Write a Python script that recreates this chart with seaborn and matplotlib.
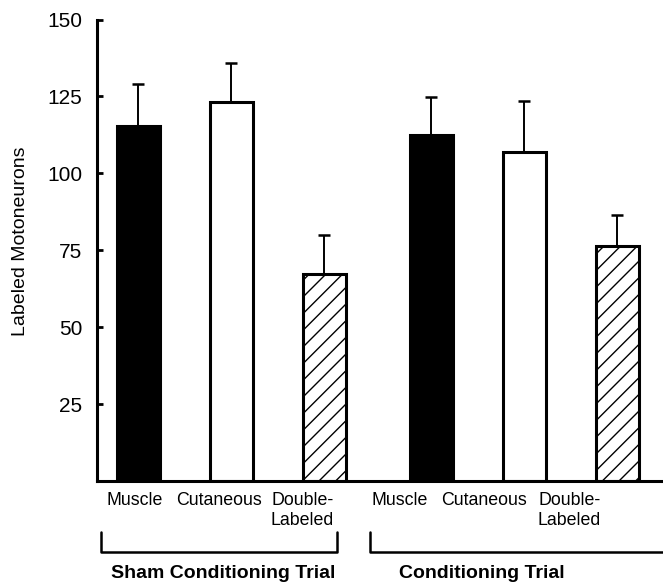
import matplotlib
matplotlib.use("Agg")
import matplotlib.pyplot as plt
from matplotlib.lines import Line2D
import numpy as np
import pandas as pd
import seaborn as sns

# ---- data ----
groups = ["Sham Conditioning Trial", "Conditioning Trial"]
categories = ["Muscle", "Cutaneous", "Double-\nLabeled"]
sham_means = [115.3, 123.2, 67.4]
sham_err = [13.8, 12.6, 12.5]
cond_means = [112.3, 106.9, 76.5]
cond_err = [12.5, 16.7, 10.0]
yticks = [25, 50, 75, 100, 125, 150]
ylabel = "Labeled Motoneurons"

# ---- layout ----
group_offset = 3.15
rows = []
for g, (means, errs) in enumerate([(sham_means, sham_err), (cond_means, cond_err)]):
    for i, (c, m, e) in enumerate(zip(categories, means, errs)):
        rows.append({"group": groups[g], "cat": c, "pos": i + g * group_offset,
                     "value": m, "err": e})
df = pd.DataFrame(rows)

sns.set_style("ticks")
plt.rcParams["font.family"] = ["Liberation Sans", "DejaVu Sans"]
plt.rcParams["hatch.linewidth"] = 1.0
plt.rcParams["hatch.color"] = "black"
for k in ["text.color", "axes.labelcolor", "xtick.color", "ytick.color", "axes.edgecolor"]:
    plt.rcParams[k] = "black"

fig = plt.figure(figsize=(6.63, 5.87), dpi=100)
ax = fig.add_axes([97 / 663, 1 - 481 / 587, 1 - 97 / 663, (481 - 19.5) / 587])

palette = {categories[0]: "black", categories[1]: "white", categories[2]: "white"}
sns.barplot(data=df, x="pos", y="value", hue="cat", palette=palette,
            native_scale=True, dodge=False, width=0.46, errorbar=None,
            legend=False, edgecolor="black", linewidth=2.2, ax=ax, zorder=2)

for bar in ax.containers[2]:
    bar.set_hatch("//")

ax.errorbar(df["pos"], df["value"], yerr=[np.zeros(len(df)), df["err"]],
            fmt="none", ecolor="black", elinewidth=1.4, capsize=4.2,
            capthick=1.8, zorder=1)

ax.set_xlim(-0.446, 5.64)
ax.set_ylim(0, 150)
ax.set_yticks(yticks)
ax.set_yticklabels([str(t) for t in yticks], fontsize=15)
ax.tick_params(axis="y", direction="in", length=4, width=2, pad=10.5)

label_x = [-0.04, 0.866, 1.76, 2.81, 3.72, 4.63]
ax.set_xticks(label_x)
ax.set_xticklabels([c for g in groups for c in categories], fontsize=12.8,
                   multialignment="right", linespacing=1.2)
ax.tick_params(axis="x", length=0, pad=8)

ax.set_xlabel("")
ax.set_ylabel(ylabel, fontsize=14)
ax.yaxis.set_label_coords(-0.12, 0.52)

sns.despine(ax=ax)
for s in ["left", "bottom"]:
    ax.spines[s].set_linewidth(2.2)

# group brackets
def fx(px):
    return px / 663
def fy(py):
    return 1 - py / 587

for x0, x1 in [(100.7, 337), (370, 680)]:
    fig.add_artist(Line2D([fx(x0), fx(x0), fx(x1), fx(x1)],
                          [fy(532), fy(552), fy(552), fy(532)],
                          color="black", lw=1.8, clip_on=False))

for name, cx in zip(groups, [223.5, 482]):
    fig.text(fx(cx), fy(573), name, ha="center", va="center",
             fontsize=14, fontweight="bold")

fig.savefig("out.png", dpi=100)
